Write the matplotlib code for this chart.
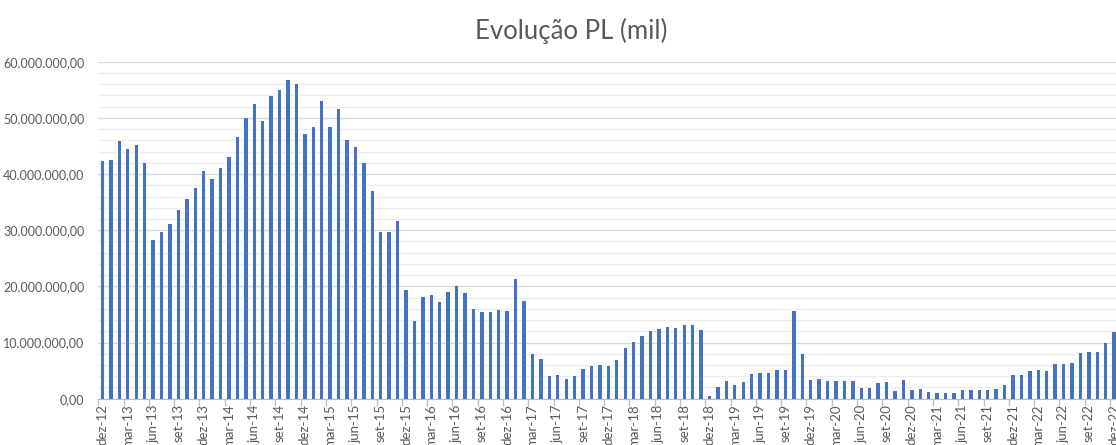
import matplotlib
matplotlib.use("Agg")
import matplotlib.pyplot as plt
from matplotlib.ticker import FixedLocator, MultipleLocator, FuncFormatter

# Monthly PL values (millions), dez-12 .. dez-22
pl_2013 = [42.3, 42.5, 45.8, 44.5, 45.1, 42.0, 28.2, 29.6, 31.1, 33.6, 35.5, 37.5, 40.5]
pl_2014 = [39.1, 41.1, 43.1, 46.6, 49.9, 52.5, 49.5, 53.9, 54.9, 56.7, 56.1, 47.1]
pl_2015 = [48.4, 53.0, 48.4, 51.6, 46.1, 44.9, 41.9, 37.0, 29.7, 29.7, 31.6, 19.3]
pl_2016 = [13.8, 18.1, 18.5, 17.2, 19.0, 20.0, 18.9, 16.0, 15.4, 15.5, 15.8, 15.7]
pl_2017 = [21.4, 17.4, 7.9, 7.0, 4.0, 4.2, 3.5, 4.1, 5.2, 5.8, 6.0, 5.8]
pl_2018 = [6.9, 9.1, 10.1, 11.2, 12.0, 12.4, 12.8, 12.5, 13.1, 13.1, 12.2, 0.5]
pl_2019 = [2.1, 3.1, 2.5, 3.0, 4.4, 4.5, 4.5, 5.1, 5.1, 15.6, 8.0, 3.4]
pl_2020 = [3.5, 3.1, 3.1, 3.1, 3.1, 1.9, 1.9, 2.8, 3.0, 1.4, 3.3, 1.5]
pl_2021 = [1.7, 1.2, 1.0, 1.0, 1.0, 1.5, 1.5, 1.5, 1.5, 1.8, 2.5, 4.2]
pl_2022 = [4.2, 5.0, 5.1, 4.9, 6.2, 6.2, 6.4, 8.2, 8.4, 8.4, 10.0, 11.9]

values = [v * 1e6 for v in pl_2013 + pl_2014 + pl_2015 + pl_2016 + pl_2017
          + pl_2018 + pl_2019 + pl_2020 + pl_2021 + pl_2022]

months = ["jan", "fev", "mar", "abr", "mai", "jun",
          "jul", "ago", "set", "out", "nov", "dez"]
labels = ["dez-12"]
for yr in range(13, 23):
    for m in months:
        labels.append(f"{m}-{yr}")

x = list(range(len(values)))

fig = plt.figure(figsize=(11.16, 4.45), dpi=100)
ax = fig.add_axes([98.3 / 1116, (445 - 398.7) / 445, 1020.1 / 1116, 337 / 445])

ax.bar(x, values, width=0.4, color="#4472C4", zorder=3)

ax.set_xlim(-0.5, len(values) - 0.5)
ax.set_ylim(0, 60e6)

# y axis: gridlines, brazilian number format
ax.yaxis.set_major_locator(MultipleLocator(10e6))
ax.yaxis.set_minor_locator(MultipleLocator(2e6))
ax.yaxis.set_major_formatter(FuncFormatter(
    lambda v, p: f"{v:,.2f}".replace(",", "X").replace(".", ",").replace("X", ".")))
ax.grid(axis="y", which="major", color="#d9d9d9", linewidth=1.0, zorder=0)
ax.grid(axis="y", which="minor", color="#eeeeee", linewidth=1.0, zorder=0)
ax.tick_params(axis="y", which="both", length=0, pad=10,
               labelsize=9, labelcolor="#595959")

# x axis: tick marks at boundaries, labels every 3 months
ax.xaxis.set_major_locator(FixedLocator([i - 0.5 for i in range(0, len(values), 3)]))
ax.xaxis.set_major_formatter(FuncFormatter(lambda v, p: ""))
ax.xaxis.set_minor_locator(FixedLocator(list(range(0, len(values), 3))))
ax.set_xticklabels([labels[i] for i in range(0, len(values), 3)], minor=True,
                   rotation=90)
ax.tick_params(axis="x", which="major", length=5, color="#bfbfbf", width=1)
ax.tick_params(axis="x", which="minor", length=0, pad=4,
               labelsize=9.5, labelcolor="#595959")

for s in ["top", "right", "left"]:
    ax.spines[s].set_visible(False)
ax.spines["bottom"].set_color("#bfbfbf")

for t in ax.get_xticklabels(minor=True) + ax.get_yticklabels():
    t.set_family("Lato")

fig.text(571 / 1116, 0.930, "Evolução PL (mil)", ha="center", va="center",
         fontsize=18.5, color="#595959", family="Lato")

fig.savefig("out.png", dpi=100)
